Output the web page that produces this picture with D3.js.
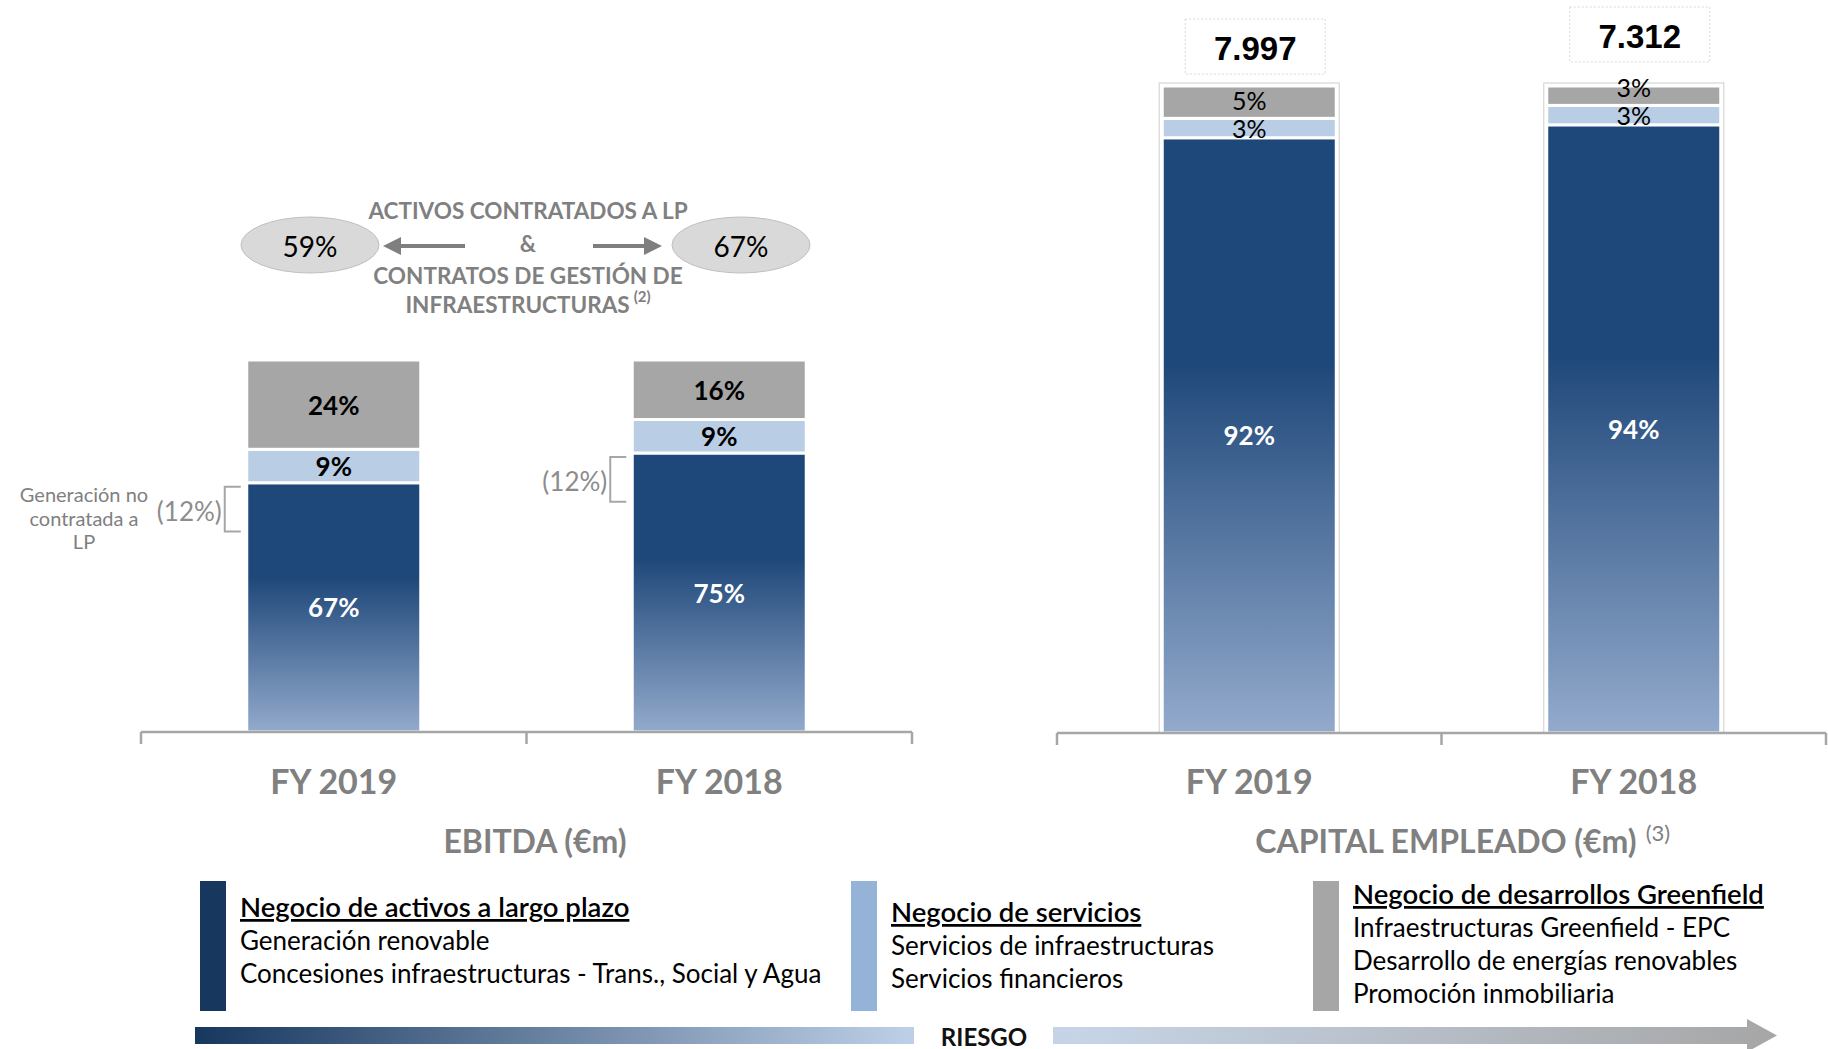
<!DOCTYPE html>
<html>
<head>
<meta charset="utf-8">
<script src="https://cdn.jsdelivr.net/npm/d3@7"></script>
<style>
  body { margin: 0; background: #fff; }
  svg text { font-family: Lato, "Open Sans", sans-serif; }
</style>
</head>
<body>
<div id="chart"></div>
<script>
// categories
const years = ["FY 2019", "FY 2018"];
const keys = ["largoPlazo", "servicios", "greenfield"];

// EBITDA mix (%)
const ebitdaLargoPlazo = [67, 75];
const ebitdaServicios = [9, 9];
const ebitdaGreenfield = [24, 16];
const ebitdaNoContratada = [12, 12];
const contratadosLP = ["59%", "67%"];

// Capital empleado mix (%)
const capitalLargoPlazo = [92, 94];
const capitalServicios = [3, 3];
const capitalGreenfield = [5, 3];
const capitalTotal = ["7.997", "7.312"];

// legend
const legendTitles = ["Negocio de activos a largo plazo", "Negocio de servicios", "Negocio de desarrollos Greenfield"];
const legendLines = [
    ["Generación renovable", "Concesiones infraestructuras - Trans., Social y Agua"],
    ["Servicios de infraestructuras", "Servicios financieros"],
    ["Infraestructuras Greenfield - EPC", "Desarrollo de energías renovables", "Promoción inmobiliaria"]
];

const width = 1828, height = 1049;
const grey = "#808080";
const segColor = { servicios: "#B9CDE5", greenfield: "#A6A6A6" };

const svg = d3.select("#chart").append("svg")
    .attr("width", width)
    .attr("height", height);

const defs = svg.append("defs");
const barGrad = defs.append("linearGradient")
    .attr("id", "barGrad")
    .attr("x1", 0).attr("y1", 0).attr("x2", 0).attr("y2", 1);
barGrad.append("stop").attr("offset", 0).attr("stop-color", "#1F487A");
barGrad.append("stop").attr("offset", 0.38).attr("stop-color", "#1F487A");
barGrad.append("stop").attr("offset", 1).attr("stop-color", "#93AACC");

function drawPanel(cfg) {
    const g = svg.append("g");
    const x = d3.scaleBand().domain(years).range([cfg.x0, cfg.x1]);
    const y = d3.scaleLinear().domain([0, 100]).range([cfg.base, cfg.top]);
    const bw = 174;
    const bx = yr => x(yr) + (x.bandwidth() - bw) / 2;

    const rows = years.map((yr, i) => ({
        year: yr,
        largoPlazo: cfg.data[0][i],
        servicios: cfg.data[1][i],
        greenfield: cfg.data[2][i]
    }));
    const series = d3.stack().keys(keys)(rows);

    if (cfg.outline) {
        g.selectAll(".outline")
            .data(rows)
            .enter()
            .append("rect")
            .attr("x", d => bx(d.year) - 3)
            .attr("y", y(100) - 3)
            .attr("width", bw + 6)
            .attr("height", y(0) - y(100) + 3)
            .style("fill", "none")
            .style("stroke", "#D6D6D6")
            .style("stroke-width", 1.2);
    }

    series.forEach(s => {
        g.selectAll(".seg-" + s.key)
            .data(s)
            .enter()
            .append("rect")
            .attr("x", d => bx(d.data.year))
            .attr("y", d => y(d[1]))
            .attr("width", bw)
            .attr("height", d => y(d[0]) - y(d[1]))
            .style("fill", s.key === "largoPlazo" ? "url(#barGrad)" : segColor[s.key])
            .style("stroke", "#fff")
            .style("stroke-width", 3);
    });

    // labels, small ones pushed up when they crowd the one below
    rows.forEach((r, i) => {
        let prevY = null;
        series.forEach(s => {
            const d = s[i];
            let ly = (y(d[0]) + y(d[1])) / 2;
            if (prevY !== null && prevY - ly < cfg.minGap) ly = prevY - cfg.minGap;
            prevY = ly;
            const big = s.key === "largoPlazo";
            g.append("text")
                .attr("x", bx(r.year) + bw / 2)
                .attr("y", ly)
                .attr("dominant-baseline", "central")
                .attr("text-anchor", "middle")
                .style("font-size", big ? "26px" : cfg.smallSize)
                .style("font-weight", big ? 700 : cfg.smallWeight)
                .style("fill", big ? "#fff" : "#000")
                .text((d[1] - d[0]) + "%");
        });
    });

    // axis line with boundary ticks
    const edges = [cfg.x0, ...years.slice(1).map(yr => x(yr)), cfg.x1];
    g.append("line")
        .attr("x1", cfg.x0).attr("x2", cfg.x1)
        .attr("y1", cfg.base).attr("y2", cfg.base)
        .style("stroke", "#A6A6A6").style("stroke-width", 2.5);
    g.selectAll(".tick")
        .data(edges)
        .enter()
        .append("line")
        .attr("x1", d => d).attr("x2", d => d)
        .attr("y1", cfg.base).attr("y2", cfg.base + 12)
        .style("stroke", "#A6A6A6").style("stroke-width", 2.5);

    g.selectAll(".cat")
        .data(years)
        .enter()
        .append("text")
        .attr("x", d => x(d) + x.bandwidth() / 2)
        .attr("y", 794)
        .attr("text-anchor", "middle")
        .style("font-size", "34px")
        .style("font-weight", 700)
        .style("fill", grey)
        .text(d => d);

    // title centred on its main text; footnote marker hangs to the right
    const title = g.append("text")
        .attr("y", 853)
        .style("font-size", "32px")
        .style("font-weight", 700)
        .style("fill", grey)
        .text(cfg.title);
    title.attr("x", cfg.titleX - title.node().getComputedTextLength() / 2);
    if (cfg.note) {
        title.append("tspan")
            .attr("dx", 9)
            .attr("dy", -12)
            .style("font-size", "22px")
            .style("font-weight", 400)
            .text(cfg.note);
    }
    return { x, y, bx, bw };
}

// ---- EBITDA panel
const left = drawPanel({
    x0: 141, x1: 912, base: 732, top: 360,
    data: [ebitdaLargoPlazo, ebitdaServicios, ebitdaGreenfield],
    smallSize: "26px", smallWeight: 700, minGap: 0,
    title: "EBITDA (€m)", titleX: 535
});

// brackets for non-contracted generation
years.forEach((yr, i) => {
    const top = left.y(ebitdaLargoPlazo[i]) + 4;
    const bot = left.y(ebitdaLargoPlazo[i] - ebitdaNoContratada[i]) + 4;
    const xr = left.bx(yr) - 6;
    const xl = xr - 16;
    svg.append("path")
        .attr("d", `M${xr},${top}H${xl}V${bot}H${xr}`)
        .style("fill", "none")
        .style("stroke", "#A6A6A6")
        .style("stroke-width", 2);
    svg.append("text")
        .attr("x", xl - 3)
        .attr("y", (top + bot) / 2 + 2)
        .attr("dominant-baseline", "central")
        .attr("text-anchor", "end")
        .style("font-size", "26px")
        .style("fill", "#8C8C8C")
        .text(`(${ebitdaNoContratada[i]}%)`);
});

svg.append("text")
    .attr("text-anchor", "middle")
    .style("font-size", "20px")
    .style("fill", grey)
    .selectAll("tspan")
    .data(["Generación no", "contratada a", "LP"])
    .enter()
    .append("tspan")
    .attr("x", 84)
    .attr("y", (d, i) => 502 + i * 23.5)
    .text(d => d);

// contracted assets annotation
const notes = ["ACTIVOS CONTRATADOS A LP", "&", "CONTRATOS DE GESTIÓN DE", "INFRAESTRUCTURAS"];
const noteYs = [210, 243, 275, 304];
notes.forEach((t, i) => {
    const tx = svg.append("text")
        .attr("x", 528)
        .attr("y", noteYs[i])
        .attr("dominant-baseline", "central")
        .attr("text-anchor", "middle")
        .style("font-size", "22.5px")
        .style("font-weight", 700)
        .style("fill", grey)
        .text(t);
    if (i === 3) {
        tx.append("tspan")
            .attr("dx", 4)
            .attr("dy", -8)
            .style("font-size", "15px")
            .text("(2)");
    }
});

const ellX = [310, 741];
svg.selectAll(".ell")
    .data(contratadosLP)
    .enter()
    .append("ellipse")
    .attr("cx", (d, i) => ellX[i])
    .attr("cy", 245)
    .attr("rx", 69)
    .attr("ry", 28)
    .style("fill", "#D9D9D9")
    .style("stroke", "#BFBFBF")
    .style("stroke-width", 1);
svg.selectAll(".ellText")
    .data(contratadosLP)
    .enter()
    .append("text")
    .attr("x", (d, i) => ellX[i])
    .attr("y", 246)
    .attr("dominant-baseline", "central")
    .attr("text-anchor", "middle")
    .style("font-size", "28px")
    .style("fill", "#000")
    .text(d => d);

// arrows
function arrow(xFrom, xTo, yy) {
    const dir = Math.sign(xTo - xFrom);
    svg.append("line")
        .attr("x1", xFrom).attr("x2", xTo - dir * 14)
        .attr("y1", yy).attr("y2", yy)
        .style("stroke", "#7F7F7F").style("stroke-width", 4);
    svg.append("path")
        .attr("d", `M${xTo},${yy}L${xTo - dir * 18},${yy - 9}L${xTo - dir * 18},${yy + 9}Z`)
        .style("fill", "#7F7F7F");
}
arrow(465, 383, 246);
arrow(593, 662, 246);

// ---- Capital empleado panel
const right = drawPanel({
    x0: 1057, x1: 1826, base: 733, top: 86,
    data: [capitalLargoPlazo, capitalServicios, capitalGreenfield],
    smallSize: "25px", smallWeight: 400, minGap: 28,
    outline: true,
    title: "CAPITAL EMPLEADO (€m)", titleX: 1446, note: "(3)"
});

const boxY = [19, 7];
years.forEach((yr, i) => {
    const cx = right.bx(yr) + right.bw / 2 + 6;
    svg.append("rect")
        .attr("x", cx - 70)
        .attr("y", boxY[i])
        .attr("width", 140)
        .attr("height", 55)
        .style("fill", "#fff")
        .style("stroke", "#D9D9D9")
        .style("stroke-dasharray", "2,2");
    svg.append("text")
        .attr("x", cx)
        .attr("y", boxY[i] + 29)
        .attr("dominant-baseline", "central")
        .attr("text-anchor", "middle")
        .style("font-family", "'Liberation Sans', Arial, sans-serif")
        .style("font-size", "33px")
        .style("font-weight", 700)
        .style("fill", "#000")
        .text(capitalTotal[i]);
});

// ---- legend
const legColors = ["#17375E", "#95B3D7", "#A6A6A6"];
const legBarX = [200, 851, 1313];
const legTitleY = [917, 922, 904];
legendTitles.forEach((t, i) => {
    svg.append("rect")
        .attr("x", legBarX[i])
        .attr("y", 881)
        .attr("width", 26)
        .attr("height", 130)
        .style("fill", legColors[i]);
    const txt = svg.append("text")
        .style("font-size", "26px")
        .style("fill", "#000");
    txt.append("tspan")
        .attr("x", legBarX[i] + 40)
        .attr("y", legTitleY[i])
        .style("text-decoration", "underline")
        .style("font-size", "27.5px")
        .style("font-weight", 600)
        .text(t);
    legendLines[i].forEach((l, j) => {
        txt.append("tspan")
            .attr("x", legBarX[i] + 40)
            .attr("y", legTitleY[i] + 33 * (j + 1))
            .text(l);
    });
});

// risk arrow
const riskGrad = defs.append("linearGradient")
    .attr("id", "riskGrad")
    .attr("gradientUnits", "userSpaceOnUse")
    .attr("x1", 195).attr("x2", 1777).attr("y1", 0).attr("y2", 0);
riskGrad.append("stop").attr("offset", 0).attr("stop-color", "#17375E");
riskGrad.append("stop").attr("offset", 0.45).attr("stop-color", "#BDCFE6");
riskGrad.append("stop").attr("offset", 0.56).attr("stop-color", "#C6D4E6");
riskGrad.append("stop").attr("offset", 1).attr("stop-color", "#A6A6A6");

svg.append("path")
    .attr("d", "M195,1027H1747V1019L1777,1035.5L1747,1052V1044H195Z")
    .style("fill", "url(#riskGrad)");
svg.append("rect")
    .attr("x", 914).attr("y", 1015)
    .attr("width", 139).attr("height", 34)
    .style("fill", "#fff");
svg.append("text")
    .attr("x", 984)
    .attr("y", 1036)
    .attr("dominant-baseline", "central")
    .attr("text-anchor", "middle")
    .style("font-size", "24px")
    .style("font-weight", 700)
    .style("fill", "#111")
    .text("RIESGO");
</script>
</body>
</html>
